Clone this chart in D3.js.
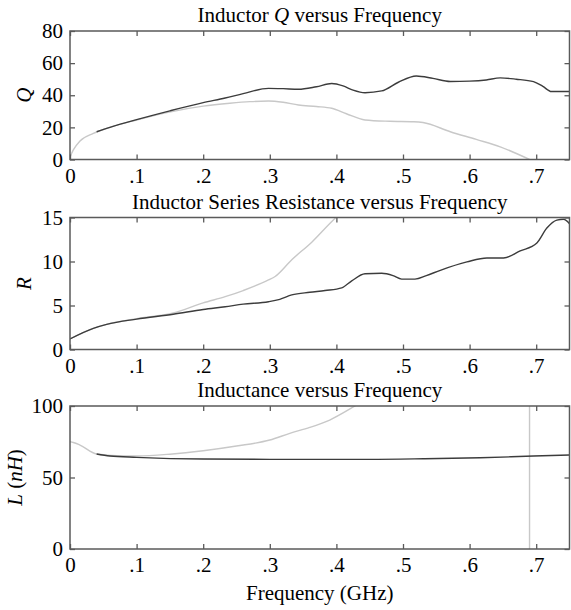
<!DOCTYPE html>
<html>
<head>
<meta charset="utf-8">
<script src="https://cdn.jsdelivr.net/npm/d3@7"></script>
<style>
  body { margin: 0; background: #fff; }
  svg { display: block; }
</style>
</head>
<body>
<div id="chart"></div>
<script>
// frequency axis (GHz)
var freqTicks = [0, 0.1, 0.2, 0.3, 0.4, 0.5, 0.6, 0.7];

// Q panel
var qTicks = [0, 20, 40, 60, 80];
var qDarkFreq = [0.04, 0.06, 0.1, 0.15, 0.2, 0.233, 0.26, 0.298, 0.32, 0.343, 0.37, 0.393, 0.41, 0.425, 0.443, 0.468, 0.493, 0.52, 0.545, 0.571, 0.6, 0.625, 0.646, 0.67, 0.696, 0.71, 0.723, 0.75];
var qDarkVal  = [17.3, 20, 24.8, 30.3, 35.4, 38.3, 41, 44.3, 44.1, 43.7, 45.3, 47.3, 45.8, 43.2, 41.6, 42.7, 48.1, 52, 50.5, 48.6, 48.8, 49.5, 50.8, 50, 48.5, 45.5, 42.3, 42.3];
var qLightFreq = [0, 0.005, 0.015, 0.035, 0.055, 0.1, 0.155, 0.2, 0.24, 0.27, 0.298, 0.32, 0.343, 0.37, 0.393, 0.415, 0.443, 0.48, 0.516, 0.53, 0.571, 0.61, 0.646, 0.69];
var qLightVal  = [1.6, 6, 11.5, 16.2, 19.4, 24.6, 30, 33.2, 35, 36, 36.4, 35.6, 33.9, 33, 31.9, 28.5, 24.6, 23.8, 23.5, 23, 17.3, 12.5, 7.9, 0];

// R panel
var rTicks = [0, 5, 10, 15];
var rDarkFreq = [0, 0.035, 0.055, 0.1, 0.155, 0.2, 0.233, 0.26, 0.298, 0.315, 0.333, 0.36, 0.383, 0.408, 0.423, 0.443, 0.468, 0.485, 0.498, 0.518, 0.535, 0.556, 0.596, 0.626, 0.651, 0.676, 0.701, 0.716, 0.731, 0.741, 0.75];
var rDarkVal  = [1.2, 2.4, 2.85, 3.45, 4.0, 4.55, 4.86, 5.15, 5.43, 5.7, 6.2, 6.5, 6.7, 7.0, 7.8, 8.6, 8.66, 8.4, 8.0, 8.0, 8.4, 9.0, 9.95, 10.4, 10.4, 11.2, 12.1, 13.8, 14.7, 14.8, 14.3];
var rLightFreq = [0, 0.035, 0.055, 0.1, 0.155, 0.2, 0.233, 0.26, 0.298, 0.308, 0.333, 0.363, 0.395, 0.405];
var rLightVal  = [1.2, 2.4, 2.86, 3.5, 4.15, 5.3, 6.0, 6.7, 7.9, 8.3, 10.2, 12.2, 14.7, 15.4];

// L panel
var lTicks = [0, 50, 100];
var lDarkFreq = [0.04, 0.06, 0.1, 0.2, 0.3, 0.45, 0.531, 0.616, 0.696, 0.75];
var lDarkVal  = [66.4, 65, 64.1, 62.9, 62.7, 62.7, 63.1, 63.8, 65, 65.7];
var lLightFreq = [0, 0.005, 0.015, 0.04, 0.07, 0.1, 0.15, 0.2, 0.25, 0.3, 0.33, 0.36, 0.39, 0.428, 0.45, 0.55, 0.6899, 0.6901, 0.75];
var lLightVal  = [75, 74.5, 72.7, 66.4, 65.2, 65, 66.3, 68.7, 72, 76.2, 80.9, 85, 90.2, 100, 106, 160, 3000, -3000, -500];

var width = 571, height = 610;
var left = 70, right = 569.5;
var fontSize = 21;
var fontFamily = "'Liberation Serif', 'Times New Roman', 'DejaVu Serif', serif";
var frameColor = "#5a5a5a";
var darkColor = "#3c3c3c", lightColor = "#c8c8c8";

var svg = d3.select("#chart").append("svg")
  .attr("width", width)
  .attr("height", height)
  .style("font-family", fontFamily);

svg.append("rect").attr("width", width).attr("height", height).attr("fill", "#fff");

var x = d3.scaleLinear().domain([0, 0.75]).range([left, right]);

function freqFormat(d) {
  return d === 0 ? "0" : d3.format(".1f")(d).replace(/^0/, "");
}

var panels = [
  {id: "q", top: 31, bottom: 159.5, domain: [0, 80], ticks: qTicks,
   title: [["Inductor ", false], ["Q", true], [" versus Frequency", false]],
   label: [["Q", true]], labelX: 31,
   series: [[qLightFreq, qLightVal, lightColor], [qDarkFreq, qDarkVal, darkColor]]},
  {id: "r", top: 217.5, bottom: 349.5, domain: [0, 15], ticks: rTicks,
   title: [["Inductor Series Resistance versus Frequency", false]],
   label: [["R", true]], labelX: 31,
   series: [[rLightFreq, rLightVal, lightColor], [rDarkFreq, rDarkVal, darkColor]]},
  {id: "l", top: 406, bottom: 549, domain: [0, 100], ticks: lTicks,
   title: [["Inductance versus Frequency", false]],
   label: [["L", true], [" (", false], ["nH", true], [")", false]], labelX: 22,
   series: [[lLightFreq, lLightVal, lightColor], [lDarkFreq, lDarkVal, darkColor]]}
];

function styleAxis(g) {
  g.attr("font-size", fontSize).attr("font-family", null);
  g.select(".domain").remove();
  g.selectAll(".tick line").attr("stroke", frameColor).attr("stroke-width", 1.3);
  g.selectAll(".tick text").attr("fill", "#000").style("font-family", fontFamily);
}

panels.forEach(function(p) {
  var y = d3.scaleLinear().domain(p.domain).range([p.bottom, p.top]);

  svg.append("clipPath").attr("id", "clip-" + p.id)
    .append("rect")
      .attr("x", left).attr("y", p.top)
      .attr("width", right - left).attr("height", p.bottom - p.top);

  // curves
  var line = d3.line()
    .curve(d3.curveMonotoneX)
    .x(function(d) { return x(d[0]); })
    .y(function(d) { return y(d[1]); });

  var plot = svg.append("g").attr("clip-path", "url(#clip-" + p.id + ")");
  p.series.forEach(function(s) {
    plot.append("path")
      .datum(d3.zip(s[0], s[1]))
      .attr("d", line)
      .attr("fill", "none")
      .attr("stroke", s[2])
      .attr("stroke-width", 1.4)
      .attr("stroke-linejoin", "round");
  });

  // axes, ticks pointing inward on all four sides
  svg.append("g")
    .attr("transform", "translate(0," + p.bottom + ")")
    .call(d3.axisBottom(x).tickValues(freqTicks).tickFormat(freqFormat).tickSize(-5).tickPadding(8.5))
    .call(styleAxis);
  svg.append("g")
    .attr("transform", "translate(0," + p.top + ")")
    .call(d3.axisTop(x).tickValues(freqTicks).tickFormat("").tickSize(-5))
    .call(styleAxis);
  svg.append("g")
    .attr("transform", "translate(" + left + ",0)")
    .call(d3.axisLeft(y).tickValues(p.ticks).tickSize(-5).tickPadding(7))
    .call(styleAxis);
  svg.append("g")
    .attr("transform", "translate(" + right + ",0)")
    .call(d3.axisRight(y).tickValues(p.ticks).tickFormat("").tickSize(-5))
    .call(styleAxis);

  svg.append("rect")
    .attr("x", left).attr("y", p.top)
    .attr("width", right - left).attr("height", p.bottom - p.top)
    .attr("fill", "none")
    .attr("stroke", frameColor)
    .attr("stroke-width", 1.5);

  // title
  var t = svg.append("text")
    .attr("x", (left + right) / 2)
    .attr("y", p.top - 9)
    .attr("text-anchor", "middle")
    .attr("font-size", fontSize)
    .style("font-family", fontFamily);
  p.title.forEach(function(part) {
    t.append("tspan").attr("font-style", part[1] ? "italic" : null).text(part[0]);
  });

  // y label
  var lab = svg.append("text")
    .attr("transform", "translate(" + p.labelX + "," + (p.top + p.bottom) / 2 + ") rotate(-90)")
    .attr("text-anchor", "middle")
    .attr("font-size", fontSize)
    .style("font-family", fontFamily);
  p.label.forEach(function(part) {
    lab.append("tspan").attr("font-style", part[1] ? "italic" : null).text(part[0]);
  });
});

svg.append("text")
  .attr("x", (left + right) / 2)
  .attr("y", 600)
  .attr("text-anchor", "middle")
  .attr("font-size", fontSize)
  .style("font-family", fontFamily)
  .text("Frequency (GHz)");
</script>
</body>
</html>
